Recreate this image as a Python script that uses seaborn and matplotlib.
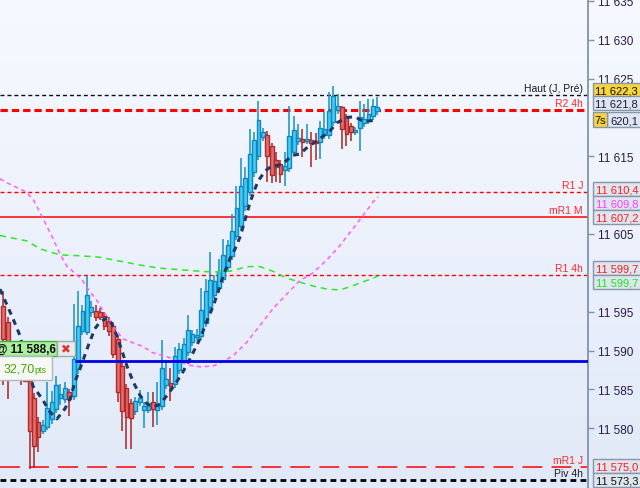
import numpy as np
import matplotlib
matplotlib.use("Agg")
import matplotlib.pyplot as plt
import seaborn as sns
from matplotlib.patches import Rectangle
from matplotlib.colors import LinearSegmentedColormap
from matplotlib.ticker import FixedLocator, FuncFormatter

sns.set_style("white")
plt.rcParams["font.family"] = ["Liberation Sans", "DejaVu Sans"]

# ---------------------------------------------------------------
# candles (one per bar)
opens = [11595.7, 11593.7, 11590.0, 11588.3, 11589.7, 11587.4, 11586.1, 11583.9, 11580.8, 11579.7,
         11580.2, 11581.2, 11582.5, 11583.9, 11583.8, 11584.7, 11584.2, 11587.6, 11592.5, 11592.4,
         11594.9, 11595.1, 11595.0, 11594.5, 11593.8, 11593.2, 11591.5, 11588.0, 11585.2, 11583.3,
         11582.2, 11583.4, 11582.3, 11582.4, 11583.4, 11582.4, 11582.9, 11585.5, 11585.8, 11585.7,
         11587.5, 11588.7, 11589.8, 11591.1, 11591.8, 11591.9, 11593.6, 11595.6, 11597.2, 11598.1,
         11599.2, 11600.8, 11602.2, 11604.8, 11606.0, 11608.6, 11610.4, 11613.0, 11615.0, 11617.5,
         11617.7, 11616.3, 11614.5, 11614.0, 11613.3, 11613.5, 11615.6, 11617.0, 11617.2, 11617.0,
         11617.1, 11617.0, 11616.8, 11617.7, 11617.7, 11619.4, 11621.0, 11621.4, 11620.0, 11618.9,
         11618.1, 11618.7, 11619.3, 11619.6, 11620.2, 11620.8]
highs = [11597.6, 11594.3, 11590.6, 11590.7, 11590.0, 11588.0, 11586.6, 11584.5, 11581.5, 11581.0,
         11586.0, 11584.8, 11586.7, 11585.7, 11586.0, 11585.1, 11596.0, 11597.6, 11595.8, 11599.6,
         11596.4, 11595.8, 11595.5, 11595.0, 11594.3, 11593.7, 11592.0, 11588.5, 11585.7, 11583.8,
         11584.0, 11584.9, 11583.4, 11584.6, 11584.7, 11586.0, 11591.4, 11588.5, 11587.8, 11590.4,
         11591.0, 11591.6, 11594.6, 11592.7, 11592.8, 11598.1, 11599.2, 11602.7, 11599.7, 11601.8,
         11604.4, 11604.2, 11607.6, 11611.2, 11614.8, 11613.6, 11618.5, 11618.1, 11622.1, 11618.6,
         11618.2, 11616.7, 11615.6, 11614.5, 11615.6, 11621.5, 11620.2, 11619.2, 11618.5, 11619.2,
         11618.1, 11618.0, 11619.6, 11620.7, 11623.3, 11624.1, 11623.0, 11621.5, 11620.4, 11619.3,
         11618.8, 11622.1, 11621.7, 11622.4, 11622.4, 11622.6]
lows = [11585.5, 11583.8, 11586.3, 11587.6, 11585.5, 11586.0, 11574.8, 11574.9, 11576.9, 11579.2,
        11579.8, 11580.6, 11582.0, 11583.0, 11583.3, 11581.6, 11583.6, 11587.0, 11592.0, 11592.0,
        11594.3, 11593.8, 11593.9, 11592.6, 11591.9, 11589.0, 11583.4, 11579.7, 11577.3, 11577.3,
        11581.7, 11582.9, 11580.0, 11582.0, 11580.2, 11580.4, 11582.4, 11585.0, 11583.5, 11585.2,
        11587.0, 11588.2, 11589.3, 11590.6, 11591.2, 11591.4, 11593.0, 11595.0, 11596.6, 11597.5,
        11598.7, 11600.2, 11601.7, 11604.2, 11605.5, 11608.0, 11609.9, 11612.4, 11614.5, 11617.0,
        11611.7, 11611.5, 11611.7, 11611.6, 11611.2, 11613.0, 11615.0, 11616.5, 11614.9, 11616.6,
        11613.6, 11614.5, 11614.7, 11617.2, 11617.2, 11618.9, 11620.5, 11616.0, 11616.3, 11617.0,
        11617.7, 11615.7, 11618.8, 11619.1, 11619.7, 11620.3]
closes = [11591.5, 11590.0, 11588.3, 11589.7, 11587.4, 11586.1, 11579.7, 11577.7, 11578.9, 11580.4,
          11582.6, 11583.4, 11585.5, 11584.4, 11585.2, 11583.8, 11588.9, 11593.2, 11595.1, 11597.2,
          11595.6, 11594.3, 11594.3, 11593.2, 11592.5, 11589.6, 11584.7, 11582.2, 11581.5, 11581.3,
          11583.5, 11583.9, 11582.9, 11583.3, 11582.5, 11582.9, 11587.8, 11586.3, 11585.4, 11589.3,
          11590.2, 11590.9, 11592.7, 11592.1, 11592.0, 11595.2, 11597.7, 11599.1, 11599.0, 11600.2,
          11602.3, 11603.6, 11605.4, 11608.4, 11611.2, 11612.2, 11615.3, 11617.1, 11619.7, 11618.1,
          11615.0, 11612.6, 11613.6, 11612.7, 11613.8, 11617.6, 11618.4, 11617.4, 11616.8, 11617.2,
          11616.7, 11616.7, 11618.7, 11618.5, 11620.8, 11622.8, 11621.5, 11618.5, 11617.9, 11618.1,
          11618.4, 11620.1, 11619.8, 11620.5, 11621.5, 11621.3]

# moving averages (bar index, price)
ma_fast_x = [-0.75, 2.2, 3.8, 6.75, 8.8, 10.6, 12.2, 14.0, 15.2, 16.3, 17.4, 19.3, 20.8, 22.0, 23.6,
             24.7, 25.8, 27.0, 28.1, 29.5, 31.1, 32.7, 34.0, 35.6, 37.2, 38.6, 40.6, 42.4, 44.7, 46.5,
             47.7, 48.8, 49.9, 51.5, 52.7, 53.8, 54.9, 56.1, 57.2, 57.9, 59.5, 61.1, 63.3, 65.6, 67.4,
             69.2, 71.3, 72.7, 74.3, 75.8, 78.1, 79.9, 81.8, 84.0, 85.1]
ma_fast_y = [11597.9, 11594.1, 11591.9, 11585.4, 11583.8, 11582.1, 11581.2, 11582.5, 11583.8, 11586.0,
             11587.6, 11590.6, 11592.8, 11593.7, 11594.2, 11593.4, 11591.9, 11589.9, 11588.0, 11586.0,
             11584.2, 11583.1, 11582.7, 11583.1, 11584.2, 11585.3, 11587.0, 11588.9, 11591.5, 11594.1,
             11595.7, 11597.5, 11599.5, 11601.8, 11603.1, 11604.6, 11606.7, 11609.1, 11610.8, 11611.8,
             11613.1, 11613.8, 11613.9, 11615.1, 11615.3, 11616.2, 11617.0, 11617.6, 11618.3, 11619.3,
             11620.0, 11620.1, 11619.5, 11619.6, 11619.7]
ma_pink_x = [-0.75, 1.5, 4.9, 6.75, 8.3, 9.9, 11.3, 12.9, 14.5, 15.8, 17.9, 19.3, 21.3, 22.7, 24.3,
             25.8, 27.2, 29.5, 31.8, 34.0, 37.2, 39.5, 42.4, 44.7, 47.7, 49.7, 52.2, 55.4, 58.3, 61.3,
             64.5, 67.4, 70.4, 73.6, 76.5, 79.5, 81.8, 84.0, 85.2]
ma_pink_y = [11612.1, 11611.4, 11610.5, 11609.5, 11607.8, 11606.0, 11604.4, 11602.4, 11600.8, 11600.2,
             11599.1, 11597.9, 11596.4, 11595.1, 11593.8, 11592.5, 11591.5, 11591.0, 11590.5, 11589.7,
             11589.2, 11588.7, 11588.1, 11587.9, 11588.0, 11588.5, 11589.3, 11591.1, 11593.2, 11595.4,
             11597.3, 11599.0, 11600.0, 11601.7, 11603.5, 11605.7, 11607.4, 11609.1, 11609.8]
ma_green_x = [-0.75, 5.4, 8.3, 12.9, 17.4, 22.0, 26.5, 31.1, 35.6, 40.2, 44.7, 47.7, 51.5, 55.4, 58.3,
              61.3, 64.5, 67.4, 70.4, 73.6, 76.5, 78.8, 81.1, 84.0, 85.2]
ma_green_y = [11604.8, 11604.1, 11603.1, 11602.3, 11602.2, 11602.0, 11601.5, 11601.0, 11600.6, 11600.4,
              11600.2, 11600.1, 11600.2, 11600.8, 11600.8, 11600.2, 11599.3, 11598.8, 11598.3, 11597.9,
              11597.8, 11598.2, 11598.7, 11599.3, 11599.6]

# horizontal levels
level_names = ["Haut (J, Pré)", "R2 4h", "R1 J", "mR1 M", "R1 4h", "mR1 J", "Piv 4h"]
level_values = [11622.9, 11621.0, 11610.4, 11607.2, 11599.7, 11575.0, 11573.3]
order_price = 11588.6
order_label = "@ 11 588,6"
order_points = "32,70"

# price scale labels left visible (the others sit under the tags)
axis_ticks = [11580, 11585, 11590, 11595, 11605, 11615, 11625, 11630, 11635]
price_tags = ["11 622,3", "11 621,8", "620,1", "11 610,4", "11 609,8", "11 607,2",
              "11 599,7", "11 599,7", "11 575,0", "11 573,3"]

# ---------------------------------------------------------------
level_styles = [
    dict(color="#111111", lw=1.0, ls=(0, (2.9, 2.1)), tc="#1a1a2a"),
    dict(color="#ff0000", lw=2.2, ls=(0, (2.4, 1.3)), tc="#ff2a2a"),
    dict(color="#ff0000", lw=1.0, ls=(0, (2.9, 2.1)), tc="#ff2a2a"),
    dict(color="#ff0000", lw=1.1, ls="-", tc="#ff2a2a"),
    dict(color="#ff0000", lw=1.0, ls=(0, (2.9, 2.1)), tc="#ff2a2a"),
    dict(color="#ff0000", lw=1.1, ls=(0, (13, 6)), tc="#ff2a2a"),
    dict(color="#000000", lw=2.0, ls=(0, (2.1, 1.5)), tc="#1a1a2a"),
]

W, H = 640, 489
fig = plt.figure(figsize=(W / 100, H / 100), dpi=100)

bg = fig.add_axes([0, 0, 1, 1], zorder=0)
cmap_bg = LinearSegmentedColormap.from_list("bg", ["#f6f9ff", "#e1e9f8"])
bg.imshow(np.linspace(0, 1, 256)[:, None], aspect="auto", cmap=cmap_bg,
          extent=[0, 1, 0, 1], origin="upper")
bg.axis("off")

ax = fig.add_axes([0, 0, 588 / W, 1], zorder=1)
ax.patch.set_alpha(0)

o = np.array(opens); h = np.array(highs); l = np.array(lows); c = np.array(closes)
idx = np.arange(len(o))
up = c >= o
body_lo = np.minimum(o, c)
body_h = np.maximum(np.abs(c - o), 0.18)

ax.vlines(idx[up], l[up], h[up], color="#1590c6", lw=1.1, zorder=3)
ax.vlines(idx[~up], l[~up], h[~up], color="#a82424", lw=1.1, zorder=3)
ax.bar(idx[up], body_h[up], bottom=body_lo[up], width=0.86, color="#3fcdf6",
       edgecolor="#1386bd", linewidth=1.0, zorder=4)
ax.bar(idx[~up], body_h[~up], bottom=body_lo[~up], width=0.86, color="#e46c6c",
       edgecolor="#b02a2a", linewidth=1.0, zorder=4)

# levels + their names
for name, val, st in zip(level_names, level_values, level_styles):
    ax.axhline(val, color=st["color"], lw=st["lw"], linestyle=st["ls"], zorder=2)
    ax.annotate(name, xy=(1, val), xycoords=("axes fraction", "data"),
                xytext=(-3.6, 2.7), textcoords="offset points", ha="right",
                va="baseline", fontsize=7.5, color=st["tc"], zorder=7)

ax.axhline(order_price, xmin=76 / 588, xmax=1, color="#0000e6", lw=2.0, zorder=6)

# moving averages
sns.lineplot(x=ma_green_x, y=ma_green_y, ax=ax, color="#2ee62e", linewidth=1.1,
             linestyle=(0, (4, 3.2)), zorder=5)
sns.lineplot(x=ma_pink_x, y=ma_pink_y, ax=ax, color="#ff5cff", linewidth=1.1,
             linestyle=(0, (2.8, 2.4)), zorder=5)
sns.lineplot(x=ma_fast_x, y=ma_fast_y, ax=ax, color="#1c3a66", linewidth=2.2,
             linestyle=(0, (1.9, 1.7)), zorder=5)

ax.set_xlim(-0.75, 132.9)
ax.set_ylim(11572.3, 11635.25)
ax.set_xticks([])
ax.set_xlabel("")
ax.set_ylabel("")
ax.yaxis.tick_right()
ax.yaxis.set_major_locator(FixedLocator(axis_ticks))
ax.yaxis.set_major_formatter(FuncFormatter(lambda v, p: f"{int(round(v)):,}".replace(",", " ")))
ax.tick_params(axis="y", direction="out", length=4, width=1, color="#8393a6",
               pad=3, labelsize=8.5, labelcolor="#2a1a4a")
for side in ["left", "top", "bottom"]:
    ax.spines[side].set_visible(False)
ax.spines["right"].set_color("#8393a6")
ax.spines["right"].set_linewidth(1.3)


def px_box(x0, y0, w, h, face, edge, z=10):
    fig.add_artist(Rectangle((x0 / W, 1 - (y0 + h) / H), w / W, h / H,
                             transform=fig.transFigure, facecolor=face,
                             edgecolor=edge, linewidth=1, zorder=z))


def px_text(x, y, s, z=11, **kw):
    fig.text(x / W, 1 - y / H, s, zorder=z, **kw)


# price tags on the right axis
tag_layout = [
    (593, 84, 49, 14, "#f7d43a", "#111111"),
    (593, 97, 49, 14, "#dde5ef", "#1a1a40"),
    (607, 113, 35, 15, "#dde5ef", "#1a1a40"),
    (593, 183, 49, 14, "#dde5ef", "#ff1a1a"),
    (593, 197, 49, 14, "#dde5ef", "#ff3cff"),
    (593, 211, 49, 14, "#dde5ef", "#ff1a1a"),
    (593, 262, 49, 14, "#dde5ef", "#ff1a1a"),
    (593, 276, 49, 14, "#dde5ef", "#1ee61e"),
    (593, 460, 49, 14, "#dde5ef", "#ff1a1a"),
    (593, 474, 49, 14, "#dde5ef", "#111111"),
]
for tag, (x0, y0, w, hh, face, tcol) in zip(price_tags, tag_layout):
    px_box(x0, y0, w, hh, face, "#8796a8")
    px_text(638, y0 + hh / 2 + 0.5, tag, ha="right", va="center", fontsize=8, color=tcol)

px_box(593, 113, 14, 15, "#f7d43a", "#8796a8", z=12)
px_text(600, 120.5, "7s", z=13, ha="center", va="center", fontsize=8, color="#111111")

# order label on the left
px_box(-2, 342, 59, 15, "#a9ef9f", "#3cb43c")
px_text(-4, 350, order_label, ha="left", va="center", fontsize=8.5, fontweight="bold",
        color="#111111")
px_box(57, 342, 18, 15, "#e9eaec", "#a0a8b0")
px_text(66, 350, "\u2716", ha="center", va="center", fontsize=8.5, color="#d83434",
        family=["DejaVu Sans"])
px_box(-2, 357, 54, 24, "#f5f8f4", "#b0b8c0")
px_text(4, 373, order_points, ha="left", va="baseline", fontsize=9, color="#4aa600")
px_text(34, 373, "pts", ha="left", va="baseline", fontsize=6.5, color="#4aa600")

fig.savefig("out.png", dpi=100)
